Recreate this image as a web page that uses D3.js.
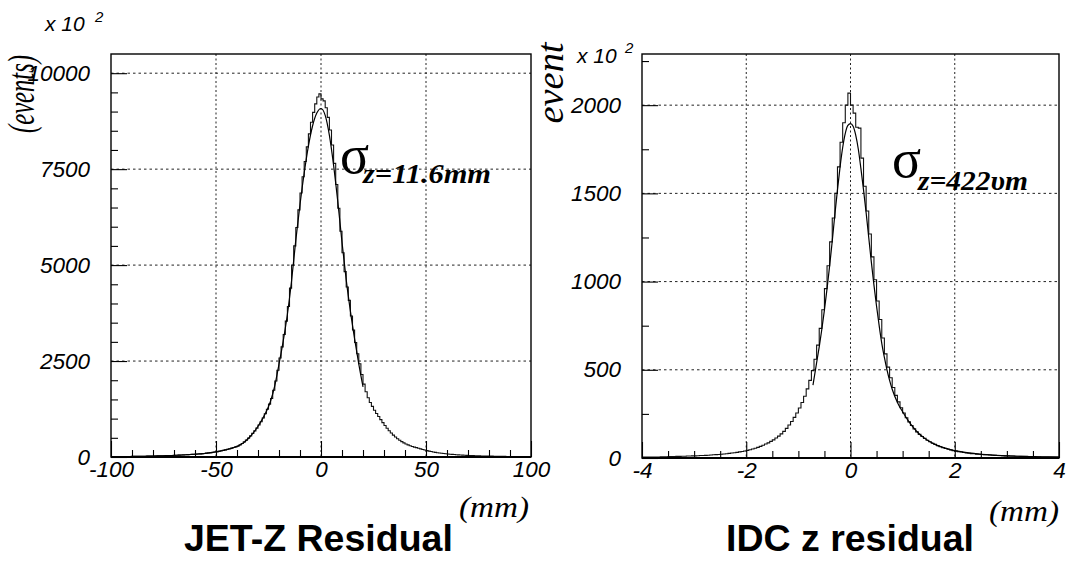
<!DOCTYPE html>
<html>
<head>
<meta charset="utf-8">
<script src="https://cdn.jsdelivr.net/npm/d3@7"></script>
<style>
  body { margin: 0; background: #fff; }
  svg { display: block; }
</style>
</head>
<body>
<div id="chart"></div>
<script>
// ---- data: JET-Z residual (mm), 1 mm bins from -100 ----
const jetBinStart = -100, jetBinWidth = 1;
const jetCounts = [
  8,9,9,10,10,11,11,12,13,14,
  15,16,16,17,18,19,20,22,23,24,
  26,27,29,30,32,34,35,37,39,41,
  44,46,49,52,55,58,61,64,68,71,
  74,78,82,87,93,100,107,114,122,130,
  140,150,161,173,186,200,215,231,248,264,
  282,315,352,394,440,492,550,615,680,752,
  832,920,1018,1126,1245,1377,1523,1740,1980,2260,
  2580,2870,3190,3540,3920,4400,5000,5500,5980,6440,
  6880,7300,7700,8080,8420,8720,8980,9200,9380,9460,
  9330,9280,9100,8850,8520,8130,7650,7100,6480,5880,
  5320,4830,4430,4080,3675,3310,2985,2690,2430,2150,
  1900,1700,1545,1420,1320,1220,1135,1055,975,895,
  820,750,685,625,570,520,475,435,400,368,
  340,315,293,274,258,243,227,211,196,181,
  167,154,142,131,121,112,104,97,90,84,
  78,73,68,64,60,56,52,48,45,42,
  40,38,36,34,32,30,28,27,25,24,
  23,22,20,19,18,17,16,15,14,13,
  13,12,12,11,11,10,10,9,9,8
];
// fit curve, sampled every 2 mm from -100 to 20
const jetFitX = d3.range(-100, 21, 2);
const jetFitY = [
  8,9,10,11,13,14,16,17,19,22,
  25,28,31,34,38,42,47,52,58,65,
  72,80,89,101,116,133,153,177,205,238,
  276,330,410,515,645,800,980,1190,1460,1860,
  2420,3020,3720,4600,5650,6580,7400,8100,8630,8960,
  9080,8900,8380,7600,6650,5600,4620,3800,3080,2420,
  1830
];

// ---- data: IDC z residual (mm), 0.05 mm bins from -4 ----
const idcBinStart = -4, idcBinWidth = 0.05;
const idcCounts = [
  5,5,5,5,6,6,6,7,7,7,
  8,8,8,9,9,10,10,11,11,12,
  12,13,14,14,15,16,17,18,19,20,
  21,23,24,26,28,30,32,35,37,40,
  43,47,51,55,60,66,72,79,86,94,
  103,113,124,137,151,168,187,207,230,255,
  283,315,350,392,440,495,560,640,735,840,
  960,1090,1225,1360,1500,1650,1790,1900,2000,2068,
  2000,1955,1875,1870,1700,1540,1400,1270,1140,1010,
  890,785,680,590,515,455,400,355,318,285,
  255,228,205,184,165,148,134,122,111,101,
  92,84,77,70,64,59,54,50,46,42,
  39,36,34,31,29,27,25,24,22,21,
  20,19,18,17,16,15,14,14,13,12,
  12,11,11,10,10,9,9,9,8,8,
  7,7,7,6,6,6,5,5,5,5
];
const idcFitX = [
  -0.72,-0.65,-0.6,-0.55,-0.5,-0.45,-0.4,-0.35,-0.3,-0.25,
  -0.2,-0.15,-0.1,-0.05,0,0.05,0.1,0.15,0.2,0.25,
  0.3,0.35,0.4,0.45,0.5,0.55,0.6,0.65,0.7,0.75,
  0.8,0.9,1.0,1.1,1.2,1.3,1.4,1.5,1.6,1.7,
  1.8,1.9,2.0,2.2,2.4,2.6,2.8,3.0,3.2,3.4,
  3.6,3.8,4.0
];
const idcFitY = [
  413,540,630,730,840,960,1090,1230,1380,1520,
  1650,1760,1840,1885,1895,1880,1830,1750,1640,1520,
  1390,1250,1110,980,860,750,650,570,500,440,
  390,315,262,215,175,142,117,96,80,67,
  57,49,42,32,25,19,15,12,10,8,
  7,6,5
];

// ---- ticks ----
const jetXMajor = [-100, -50, 0, 50, 100];
const jetXLabels = ["-100", "-50", "0", "50", "100"];
const jetYMajor = [0, 2500, 5000, 7500, 10000];
const jetYLabels = ["0", "2500", "5000", "7500", "10000"];
const idcXMajor = [-4, -2, 0, 2, 4];
const idcXLabels = ["-4", "-2", "0", "2", "4"];
const idcYMajor = [0, 500, 1000, 1500, 2000];
const idcYLabels = ["0", "500", "1000", "1500", "2000"];

const W = 1071, H = 561;
const SANS = "'Liberation Sans', Arial, Helvetica, sans-serif";
const SERIF = "'Liberation Serif', 'Times New Roman', serif";

const svg = d3.select("#chart").append("svg")
  .attr("width", W)
  .attr("height", H);

svg.append("rect").attr("width", W).attr("height", H).attr("fill", "#fff");

const panels = [
  {
    left: 111, right: 531, top: 54, bottom: 457,
    xDomain: [-100, 100], yDomain: [0, 10500],
    xMajor: jetXMajor, xLabels: jetXLabels, xMinorStep: 10,
    yMajor: jetYMajor, yLabels: jetYLabels, yMinorStep: 500, yMinorMax: 10000,
    binStart: jetBinStart, binWidth: jetBinWidth, counts: jetCounts,
    fitX: jetFitX, fitY: jetFitY
  },
  {
    left: 642, right: 1059, top: 54, bottom: 458,
    xDomain: [-4, 4], yDomain: [0, 2290],
    xMajor: idcXMajor, xLabels: idcXLabels, xMinorStep: 0.5,
    yMajor: idcYMajor, yLabels: idcYLabels, yMinorStep: 250, yMinorMax: 2250,
    binStart: idcBinStart, binWidth: idcBinWidth, counts: idcCounts,
    fitX: idcFitX, fitY: idcFitY
  }
];

panels.forEach(p => {
  const x = d3.scaleLinear().domain(p.xDomain).range([p.left, p.right]);
  const y = d3.scaleLinear().domain(p.yDomain).range([p.bottom, p.top]);
  const g = svg.append("g");

  // dotted grid at major ticks
  g.selectAll(".vgrid")
    .data(p.xMajor.slice(1, -1))
    .enter().append("line")
    .attr("x1", d => x(d)).attr("x2", d => x(d))
    .attr("y1", p.top).attr("y2", p.bottom)
    .attr("stroke", "#222").attr("stroke-width", 1)
    .attr("stroke-dasharray", "2,2.5");

  g.selectAll(".hgrid")
    .data(p.yMajor.slice(1))
    .enter().append("line")
    .attr("x1", p.left).attr("x2", p.right)
    .attr("y1", d => y(d)).attr("y2", d => y(d))
    .attr("stroke", "#222").attr("stroke-width", 1)
    .attr("stroke-dasharray", "2.5,3");

  // histogram outline
  const edges = p.counts.map((c, i) => [p.binStart + i * p.binWidth, c]);
  edges.push([p.binStart + p.counts.length * p.binWidth, p.counts[p.counts.length - 1]]);
  const step = d3.line()
    .x(d => x(d[0]))
    .y(d => y(d[1]))
    .curve(d3.curveStepAfter);
  g.append("path")
    .attr("d", step(edges))
    .attr("fill", "none")
    .attr("stroke", "#111")
    .attr("stroke-width", 1.1);

  // fit curve
  const fit = d3.line()
    .x((d, i) => x(p.fitX[i]))
    .y(d => y(d))
    .curve(d3.curveMonotoneX);
  g.append("path")
    .attr("d", fit(p.fitY))
    .attr("fill", "none")
    .attr("stroke", "#000")
    .attr("stroke-width", 1.2);

  // minor ticks
  const xMinor = d3.range(p.xDomain[0], p.xDomain[1] + 1e-9, p.xMinorStep)
    .filter(v => !p.xMajor.some(m => Math.abs(m - v) < 1e-9));
  const yMinor = d3.range(0, p.yMinorMax + 1e-9, p.yMinorStep)
    .filter(v => !p.yMajor.some(m => Math.abs(m - v) < 1e-9));

  g.append("g")
    .attr("transform", `translate(0,${p.bottom})`)
    .call(d3.axisBottom(x).tickValues(xMinor).tickSize(-7).tickFormat(""))
    .call(a => a.select(".domain").remove());

  g.append("g")
    .attr("transform", `translate(${p.left},0)`)
    .call(d3.axisLeft(y).tickValues(yMinor).tickSize(-7).tickFormat(""))
    .call(a => a.select(".domain").remove());

  // major ticks + labels
  const xAx = g.append("g")
    .attr("transform", `translate(0,${p.bottom})`)
    .call(d3.axisBottom(x).tickValues(p.xMajor).tickSize(-16).tickPadding(4)
      .tickFormat((d, i) => p.xLabels[i]))
    .call(a => a.select(".domain").remove());

  const yAx = g.append("g")
    .attr("transform", `translate(${p.left},0)`)
    .call(d3.axisLeft(y).tickValues(p.yMajor).tickSize(-16).tickPadding(21)
      .tickFormat((d, i) => p.yLabels[i]))
    .call(a => a.select(".domain").remove());

  [xAx, yAx].forEach(a => {
    a.selectAll("text")
      .attr("fill", "#000")
      .style("font-family", SANS)
      .style("font-style", "italic")
      .style("font-size", "22.5px");
  });
  g.selectAll(".tick line").attr("stroke", "#000").attr("stroke-width", 1.1);

  // frame
  g.append("rect")
    .attr("x", p.left).attr("y", p.top)
    .attr("width", p.right - p.left).attr("height", p.bottom - p.top)
    .attr("fill", "none").attr("stroke", "#000").attr("stroke-width", 1.4);
  g.append("line")
    .attr("x1", p.left).attr("x2", p.right)
    .attr("y1", p.bottom).attr("y2", p.bottom)
    .attr("stroke", "#000").attr("stroke-width", 2.2);
});

// ---- annotations ----
function sansText(txt, x, y, size, opts = {}) {
  return svg.append("text")
    .attr("x", x).attr("y", y)
    .style("font-family", SANS)
    .style("font-size", size + "px")
    .style("font-style", opts.italic ? "italic" : "normal")
    .style("font-weight", opts.bold ? "bold" : "normal")
    .attr("fill", "#000")
    .text(txt);
}

function serifText(txt, x, y, size, opts = {}) {
  const t = svg.append("text")
    .attr("x", x).attr("y", y)
    .style("font-family", SERIF)
    .style("font-size", size + "px")
    .style("font-style", "italic")
    .style("font-weight", opts.bold ? "bold" : "normal")
    .attr("fill", "#000")
    .text(txt);
  if (opts.len) t.attr("textLength", opts.len).attr("lengthAdjust", "spacingAndGlyphs");
  if (opts.anchor) t.attr("text-anchor", opts.anchor);
  if (opts.rotate) t.attr("transform", `rotate(-90,${x},${y})`);
  return t;
}

// multipliers
sansText("x 10", 45, 31, 21, { italic: true });
sansText("2", 95, 22, 15, { italic: true });
sansText("x 10", 577, 63, 21, { italic: true });
sansText("2", 625, 53, 15, { italic: true });

// y titles
serifText("(events)", 34, 94, 37, { anchor: "middle", len: 78, rotate: true });
serifText("event", 563, 83, 37, { anchor: "middle", len: 81, rotate: true });

// sigma labels
svg.append("text").attr("x", 340).attr("y", 173)
  .style("font-family", SERIF).style("font-size", "54px").attr("fill", "#000").text("σ");
serifText("z=11.6mm", 363, 183, 27, { bold: true, len: 128 });
svg.append("text").attr("x", 892).attr("y", 177)
  .style("font-family", SERIF).style("font-size", "54px").attr("fill", "#000").text("σ");
serifText("z=422υm", 918, 190, 27, { bold: true, len: 110 });

// x titles
sansText("JET-Z Residual", 184, 551, 37.5, { bold: true });
serifText("(mm)", 459, 517, 30, { len: 70 });
sansText("IDC z residual", 726, 551, 37.5, { bold: true });
serifText("(mm)", 989, 521, 30, { len: 70 });
</script>
</body>
</html>
